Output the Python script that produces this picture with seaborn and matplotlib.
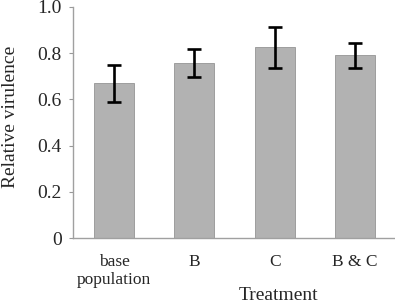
import matplotlib
matplotlib.use("Agg")
import matplotlib.pyplot as plt
import seaborn as sns
import pandas as pd

# values
treatments = ["base\npopulation", "B", "C", "B & C"]
virulence = [0.670, 0.756, 0.825, 0.791]
err = [0.081, 0.061, 0.090, 0.053]

df = pd.DataFrame({"Treatment": treatments, "Relative virulence": virulence})

sns.set_style("white")
plt.rcParams["font.family"] = ["Liberation Serif", "DejaVu Serif"]

fig = plt.figure(figsize=(3.95, 3.04), dpi=100)
ax = fig.add_axes([0.185, 0.217, 0.815, 0.760])

sns.barplot(data=df, x="Treatment", y="Relative virulence", ax=ax,
            color="#b2b2b2", saturation=1, width=0.5, errorbar=None,
            edgecolor="#959595", linewidth=0.6)
ax.errorbar(range(len(treatments)), virulence, yerr=err, fmt="none",
            ecolor="black", elinewidth=1.9, capsize=5, capthick=1.9)

ax.set_xlim(-0.51, 3.5)
ax.set_ylim(0, 1.0)
ax.set_yticks([0, 0.2, 0.4, 0.6, 0.8, 1.0])
ax.set_yticklabels(["0", "0.2", "0.4", "0.6", "0.8", "1.0"])
ax.tick_params(axis="y", which="both", left=True, length=3, width=0.8,
               color="#999999", labelsize=14, pad=5)
ax.tick_params(axis="x", bottom=False, labelsize=12.5, pad=8)

for s in ["top", "right"]:
    ax.spines[s].set_visible(False)
for s in ["left", "bottom"]:
    ax.spines[s].set_color("#a0a0a0")
    ax.spines[s].set_linewidth(1.0)

ax.set_ylabel("Relative virulence", fontsize=14)
ax.yaxis.set_label_coords(-0.168, 0.524)
ax.set_xlabel("Treatment", fontsize=14)
ax.xaxis.set_label_coords(0.637, -0.212)

fig.savefig("out.png", dpi=100)
